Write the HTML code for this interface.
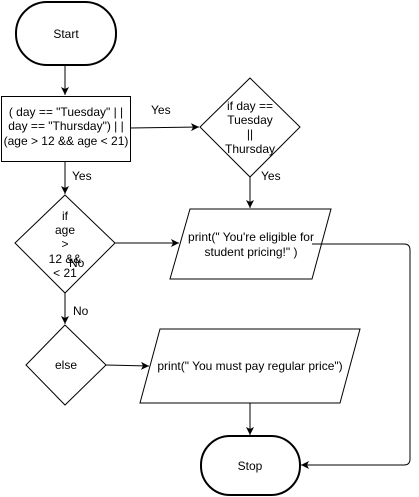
<!DOCTYPE html>
<html><head><style>body{margin:0;background:#fff}svg{display:block}text{font-family:"Liberation Sans",sans-serif;font-size:12px;fill:#000}</style></head><body>
<svg width="419" height="497" viewBox="0 0 419 497" xmlns="http://www.w3.org/2000/svg">
<defs><marker id="a" markerWidth="10" markerHeight="10" refX="9" refY="5" orient="auto" markerUnits="userSpaceOnUse"><path d="M1,1 L9,5 L1,9 L3,5 Z" fill="#000"/></marker></defs>
<g fill="none" stroke="#000">
<rect x="16" y="2" width="100" height="63" rx="31" stroke-width="2"/>
<rect x="1.5" y="96.5" width="129" height="65"/>
<path d="M250,78 L300,127 L250,177 L200,127 Z"/>
<path d="M65,195 L115,243 L65,293 L15,243 Z"/>
<path d="M65,325 L106,365 L65,405 L26,365 Z"/>
<path d="M190,209 L331,209 L312,279 L170,279 Z"/>
<path d="M160,329 L360,329 L340,403 L140,403 Z"/>
<rect x="201" y="436" width="99" height="59" rx="29" stroke-width="2"/>
<path d="M65,65 V95" marker-end="url(#a)"/>
<path d="M130,128 L199,127" marker-end="url(#a)"/>
<path d="M250,177 V208" marker-end="url(#a)"/>
<path d="M65,161 V194" marker-end="url(#a)"/>
<path d="M115,243 H179" marker-end="url(#a)"/>
<path d="M65,293 V324" marker-end="url(#a)"/>
<path d="M106,365 L149,366" marker-end="url(#a)"/>
<path d="M250,403 V435" marker-end="url(#a)"/>
<path d="M312,244 H404 Q410,244 410,250 V459 Q410,465 404,465 H301" marker-end="url(#a)"/>
</g>
<text x="66" y="38" text-anchor="middle">Start</text>
<text x="66" y="116" text-anchor="middle">( day == "Tuesday" | |</text>
<text x="66" y="130" text-anchor="middle">day == "Thursday") | |</text>
<text x="66" y="145" text-anchor="middle">(age &gt; 12 &amp;&amp; age &lt; 21)</text>
<text x="151" y="114">Yes</text>
<text x="250" y="110" text-anchor="middle">if day ==</text>
<text x="250" y="124" text-anchor="middle">Tuesday</text>
<text x="250" y="138" text-anchor="middle">||</text>
<text x="250" y="153" text-anchor="middle">Thursday</text>
<text x="261" y="180">Yes</text>
<text x="72" y="180">Yes</text>
<text x="65" y="220" text-anchor="middle">if</text>
<text x="65" y="234" text-anchor="middle">age</text>
<text x="65" y="248" text-anchor="middle">&gt;</text>
<text x="65" y="263" text-anchor="middle">12 &amp;&amp;</text>
<text x="65" y="277" text-anchor="middle">&lt; 21</text>
<text x="69" y="267">No</text>
<text x="73" y="315">No</text>
<text x="251" y="241" text-anchor="middle">print(" You're eligible for</text>
<text x="251" y="256" text-anchor="middle">student pricing!" )</text>
<text x="66" y="369" text-anchor="middle">else</text>
<text x="250" y="370" text-anchor="middle">print(" You must pay regular price")</text>
<text x="250" y="470" text-anchor="middle">Stop</text>
</svg>
</body></html>
